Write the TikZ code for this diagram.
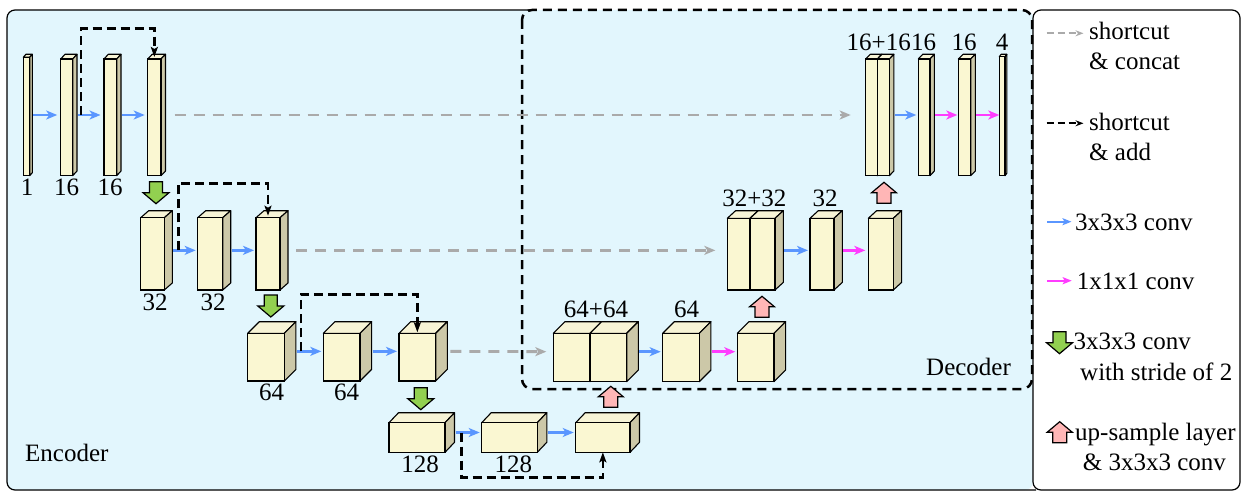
\documentclass[tikz,border=0pt]{standalone}
\usepackage{fontspec}
\setmainfont{Liberation Serif}
\newfontfamily\tnr{Liberation Serif}
\usetikzlibrary{arrows.meta,calc}
\definecolor{bgblue}{RGB}{226,246,253}
\definecolor{frontc}{RGB}{250,247,210}
\definecolor{topc}{RGB}{247,244,214}
\definecolor{sidec}{RGB}{204,200,168}
\definecolor{convblue}{RGB}{90,150,255}
\definecolor{pwmag}{RGB}{255,60,255}
\definecolor{catgray}{RGB}{170,170,170}
\definecolor{greenc}{RGB}{146,208,80}
\definecolor{pinkc}{RGB}{255,182,182}
\tikzset{
  frontface/.style={draw=black, line width=1.1pt, fill=frontc, inner sep=0pt, outer sep=0pt, anchor=north west},
  topface/.style={draw=black, line width=1.1pt, fill=topc, line join=round},
  sideface/.style={draw=black, line width=1.1pt, fill=sidec, line join=round},
  conv/.style={draw=convblue, line width=2.5pt, shorten <=1pt, shorten >=2pt, -{Stealth[length=11pt,width=9pt,inset=3pt]}},
  pw/.style={conv, draw=pwmag},
  cat/.style={draw=catgray, line width=2.8pt, dash pattern=on 11pt off 8pt, -{Stealth[length=11pt,width=9pt,inset=3pt]}},
  addc/.style={draw=black, line width=2.5pt, dash pattern=on 9pt off 5pt, -{Stealth[length=10pt,width=7pt,inset=2pt]}},
  lbl/.style={font=\tnr\fontsize{25}{30}\selectfont, inner sep=0pt, anchor=base},
  leg/.style={lbl, anchor=base west},
  blockarrow/.style={draw=black, line width=1.2pt, line join=miter},
}
% name, xl, xr, ytop, ybot, dx, dy
\newcommand\blk[7]{%
  \path[topface] (#2,#4) -- (#2+#6,#4-#7) -- (#3+#6,#4-#7) -- (#3,#4) -- cycle;
  \path[sideface] (#3,#4) -- (#3+#6,#4-#7) -- (#3+#6,#5-#7) -- (#3,#5) -- cycle;
  \node[frontface, minimum width={#3-#2}, minimum height={#5-#4}] (#1) at (#2,#4) {};
  \coordinate (#1o) at ({#3+#6},{(#4+#5)/2-#7/2});
  \coordinate (#1i) at ({#2},{(#4+#5)/2-#7/2});
}
\newcommand\downarr[2]{%
  \path[blockarrow, fill=greenc] (#1-6.5,#2) -- (#1+6.5,#2) -- (#1+6.5,#2+11) -- (#1+13,#2+11) -- (#1,#2+22) -- (#1-13,#2+11) -- (#1-6.5,#2+11) -- cycle;}
\newcommand\uparr[2]{%
  \path[blockarrow, fill=pinkc] (#1-7,#2) -- (#1+7,#2) -- (#1+7,#2-10.5) -- (#1+12.5,#2-10.5) -- (#1,#2-21) -- (#1-12.5,#2-10.5) -- (#1-7,#2-10.5) -- cycle;}
\begin{document}
\begin{tikzpicture}[x=1pt,y=-1pt]
\useasboundingbox (0,0) rectangle (1241,492);
% backgrounds
\fill[bgblue, rounded corners=8pt] (7,10) rectangle (1033,490);
\draw[line width=1.2pt, rounded corners=8pt] (531,10) -- (7,10) -- (7,490) -- (1036,490);
\draw[line width=1.2pt, fill=white, rounded corners=8pt] (1033,10) rectangle (1240,490);
\draw[line width=2.5pt, dash pattern=on 9pt off 6pt, rounded corners=10pt] (522,10) rectangle (1032,389);

% encoder row 1
\blk{E1a}{23.3}{29.7}{57.3}{175.7}{2.6}{3}
\blk{E1b}{60.7}{72.7}{59}{175.7}{4.3}{4.7}
\blk{E1c}{104}{116.7}{59}{175.7}{4.3}{4.7}
\blk{E1d}{147.7}{161}{59}{175.7}{4.5}{4.7}
% encoder row 2
\blk{E2a}{140.7}{164.3}{217.7}{290}{8}{7}
\blk{E2b}{197.7}{222.7}{217.7}{290}{8}{7}
\blk{E2c}{256}{280}{217.7}{290}{8}{7}
% encoder row 3
\blk{E3a}{247.7}{284.3}{333.3}{381}{11.6}{11.6}
\blk{E3b}{323.3}{360}{333.3}{381}{11.6}{11.6}
\blk{E3c}{399}{435.7}{333.3}{381}{11.6}{11.6}
% encoder row 4
\blk{E4a}{389}{445}{422.7}{452.3}{9.5}{10}
\blk{E4b}{481.7}{537.3}{422.7}{452.3}{9.5}{10}
\blk{E4c}{575.7}{630}{422.7}{452.3}{9.5}{10}
% decoder row 3
\blk{D3a}{553.3}{590}{333.3}{381.7}{11.6}{11.6}
\blk{D3b}{590}{626.7}{333.3}{381.7}{11.6}{11.6}
\blk{D3c}{662.7}{699.3}{333.3}{381.7}{11.6}{11.6}
\blk{D3d}{737.3}{774}{333.3}{381.7}{11.6}{11.6}
% decoder row 2
\blk{D2a}{727.3}{750}{218.3}{290}{8.3}{7.6}
\blk{D2b}{750}{775}{218.3}{290}{8.3}{7.6}
\blk{D2c}{810}{834}{218.3}{290}{8.3}{7.6}
\blk{D2d}{868.3}{893.3}{218.3}{290}{8.3}{7.6}
% decoder row 1
\blk{D1a}{865.7}{877.3}{59}{175.7}{4.6}{4.7}
\blk{D1b}{877.3}{889.3}{59}{175.7}{4.6}{4.7}
\blk{D1c}{918.3}{930}{59}{175.7}{4.4}{4.7}
\blk{D1d}{958.3}{970.7}{59}{175.7}{4.7}{4.7}
\blk{D1e}{999.3}{1005}{56.7}{175.7}{1.8}{2.4}

% convolution arrows
\draw[conv, shorten >=3.5pt] (E1ao) -- (E1bi);
\draw[conv, shorten >=3.5pt] (E1bo) -- (E1ci);
\draw[conv, shorten >=3pt] (E1co) -- (E1di);
\draw[conv] (E2ao) -- (E2bi);
\draw[conv] (E2bo) -- (E2ci);
\draw[conv] (E3ao) -- (E3bi);
\draw[conv] (E3bo) -- (E3ci);
\draw[conv] (E4ao) -- (E4bi);
\draw[conv] (E4bo) -- (E4ci);
\draw[conv] (D3bo) -- (D3ci);
\draw[pw] (D3co) -- (D3di);
\draw[conv] (D2bo) -- (D2ci);
\draw[pw, shorten >=3pt] (D2co) -- (D2di);
\draw[conv] (D1bo) -- (D1ci);
\draw[pw, shorten >=1pt] (D1co) -- (D1di);
\draw[pw, shorten >=0pt] (D1do) -- (D1ei);

% shortcut & concat
\draw[cat, shorten <=9pt, shorten >=15pt] (E1do) -- (D1ai);
\draw[cat, shorten <=8pt, shorten >=12pt] (E2co) -- (D2ai);
\draw[cat, shorten <=3pt, shorten >=7pt] (E3co) -- (D3ai);

% shortcut & add
\draw[addc] ([xshift=4pt]E1bo) -- ++(0,-86.5) -| ([yshift=2pt]E1d.north);
\draw[addc] ([xshift=6pt]E2ao) -- ++(0,-67) -| ([yshift=2pt]E2c.north);
\draw[addc] ([xshift=5pt]E3ao) -- ++(0,-57) -| ([yshift=1pt]E3c.north);
\draw[addc] ([xshift=7pt]E4ao) -- ++(0,45) -| (E4c.south);

% stride-2 and up-sample block arrows
\downarr{156}{181.7}
\downarr{270.8}{295}
\downarr{420.8}{387.7}
\uparr{610.8}{407.3}
\uparr{762}{317.3}
\uparr{884}{203.3}

% labels
\node[lbl] (t1) at (27,195) {1};
\node[lbl] (t2) at (66.7,195) {16};
\node[lbl] (t3) at (110,195) {16};
\node[lbl] (t4) at (155,310.5) {32};
\node[lbl] (t5) at (213,310.5) {32};
\node[lbl] (t6) at (271.7,400.5) {64};
\node[lbl] (t7) at (346.7,400.5) {64};
\node[lbl] (t8) at (420,472.3) {128};
\node[lbl] (t9) at (513.3,472.3) {128};
\node[lbl] (t10) at (596,317.3) {64+64};
\node[lbl] (t11) at (686.7,317.3) {64};
\node[lbl] (t12) at (754.3,206.7) {32+32};
\node[lbl] (t13) at (825,206.7) {32};
\node[lbl] (t14) at (878.7,51) {16+16};
\node[lbl] (t15) at (923.7,51) {16};
\node[lbl] (t16) at (964,51) {16};
\node[lbl] (t17) at (1002,51) {4};
\node[leg] (enc) at (25,461) {Encoder};
\node[leg] (dec) at (926,375) {Decoder};

% legend
\node[leg] (g1a) at (1089,39.3) {shortcut};
\node[leg] (g1b) at (1089,70) {\& concat};
\node[leg] (g2a) at (1089,130) {shortcut};
\node[leg] (g2b) at (1089,160) {\& add};
\node[leg] (g3) at (1075,230) {3x3x3 conv};
\node[leg] (g4) at (1076.7,289) {1x1x1 conv};
\node[leg] (g5a) at (1073.3,349.3) {3x3x3 conv};
\node[leg] (g5b) at (1080,380) {with stride of 2};
\node[leg] (g6a) at (1075,440) {up-sample layer};
\node[leg] (g6b) at (1082.7,470) {\& 3x3x3 conv};
\coordinate (c1) at (1046.7,33.3);
\coordinate (c2) at (1046.7,123.3);
\coordinate (c3) at (1047,221.7);
\coordinate (c4) at (1047,280.7);
\draw[draw=catgray, line width=2pt, dash pattern=on 7pt off 4pt, shorten >=5.5pt, -{Stealth[length=8pt,width=6pt]}] (c1) -- (c1 -| g1a.west);
\draw[draw=black, line width=2pt, dash pattern=on 7pt off 4pt, shorten >=5.5pt, -{Stealth[length=8pt,width=6pt]}] (c2) -- (c2 -| g2a.west);
\draw[draw=convblue, line width=2pt, shorten >=3.5pt, -{Stealth[length=9pt,width=7pt,inset=2pt]}] (c3) -- (c3 -| g3.west);
\draw[draw=pwmag, line width=2pt, shorten >=5pt, -{Stealth[length=9pt,width=7pt,inset=2pt]}] (c4) -- (c4 -| g4.west);
\downarr{1059.5}{331.7}
\uparr{1059.7}{442.7}
\end{tikzpicture}
\end{document}
